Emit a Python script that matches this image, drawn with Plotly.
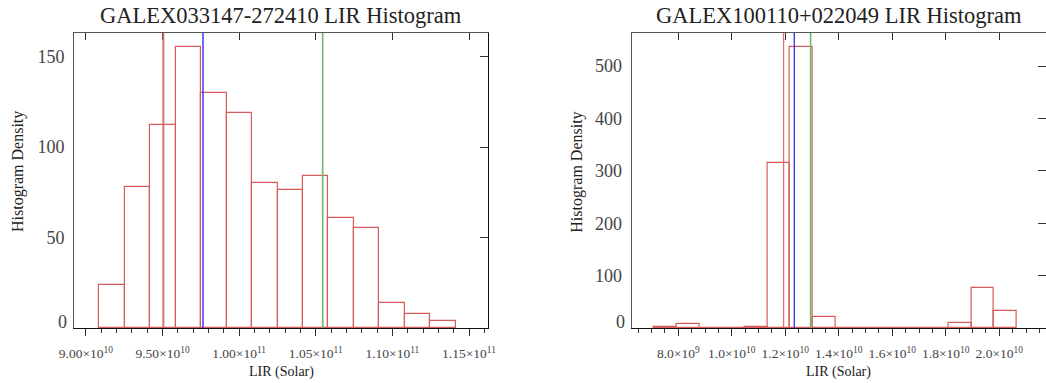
import plotly.graph_objects as go

# ---------------- data ----------------
left_title = "GALEX033147-272410 LIR Histogram"
right_title = "GALEX100110+022049 LIR Histogram"

left_edges = [9.087e10, 9.2532e10, 9.4194e10, 9.5856e10, 9.7518e10, 9.918e10, 1.00842e11,
              1.02504e11, 1.04166e11, 1.05828e11, 1.0749e11, 1.09152e11, 1.10814e11,
              1.12476e11, 1.14138e11]
left_heights = [24, 78, 112, 155, 130, 119, 80, 76, 84, 61, 55, 14, 8, 4]
left_lines = {"red": 9.505e10, "blue": 9.764e10, "green": 1.0545e11}
left_xticks = [9.0e10, 9.5e10, 1.0e11, 1.05e11, 1.1e11, 1.15e11]
left_xticklabels = ["9.00×10<sup>10</sup>", "9.50×10<sup>10</sup>", "1.00×10<sup>11</sup>",
                    "1.05×10<sup>11</sup>", "1.10×10<sup>11</sup>", "1.15×10<sup>11</sup>"]
left_yticks = [0, 50, 100, 150]
left_yticklabels = ["0", "50", "100", "150"]

right_edges = [7.09e9, 7.9375e9, 8.785e9, 9.6325e9, 1.048e10, 1.13275e10, 1.2175e10,
               1.30225e10, 1.387e10, 1.47175e10, 1.5565e10, 1.64125e10, 1.726e10,
               1.81075e10, 1.8955e10, 1.98025e10, 2.065e10]
right_heights = [2, 7, 0, 0, 2, 315, 537, 21, 0, 0, 0, 0, 0, 10, 77, 33]
right_lines = {"red": 1.1936e10, "blue": 1.2336e10, "green": 1.2946e10}
right_xticks = [8e9, 1.0e10, 1.2e10, 1.4e10, 1.6e10, 1.8e10, 2.0e10]
right_xticklabels = ["8.0×10<sup>9</sup>", "1.0×10<sup>10</sup>", "1.2×10<sup>10</sup>",
                     "1.4×10<sup>10</sup>", "1.6×10<sup>10</sup>", "1.8×10<sup>10</sup>",
                     "2.0×10<sup>10</sup>"]
right_yticks = [0, 100, 200, 300, 400, 500]
right_yticklabels = ["0", "100", "200", "300", "400", "500"]

x_title = "LIR (Solar)"
y_title = "Histogram Density"

# ---------------- style ----------------
FONT = "Liberation Serif, Times New Roman, serif"
BAR_COLOR = "rgb(214,92,92)"
LINE_COLORS = {"red": "rgba(214,90,90,0.85)", "blue": "rgb(30,30,235)", "green": "rgb(110,185,110)"}
LEFT_WIDTHS = {"red": 2, "blue": 1.3, "green": 1.6}
RIGHT_WIDTHS = {"red": 1.3, "blue": 1.2, "green": 1.6}

W, H = 1046, 383
ML, MR, MT, MB = 74, 0, 33, 55
inner_w = W - ML - MR
dom_left = [0, 414 / inner_w]
dom_right = [557.7 / inner_w, 1]

fig = go.Figure()


def add_hist(edges, heights, xa, ya):
    centers = [(edges[i] + edges[i + 1]) / 2 for i in range(len(heights))]
    widths = [edges[i + 1] - edges[i] for i in range(len(heights))]
    fig.add_trace(go.Bar(x=centers, y=heights, width=widths, base=0,
                         marker=dict(color="rgba(0,0,0,0)", line=dict(color=BAR_COLOR, width=1.2)),
                         xaxis=xa, yaxis=ya, cliponaxis=False, showlegend=False,
                         hoverinfo="skip"))
    # baseline of the histogram (empty bins)
    fig.add_trace(go.Scatter(x=[edges[0], edges[-1]], y=[0, 0], mode="lines",
                             line=dict(color=BAR_COLOR, width=1.2), xaxis=xa, yaxis=ya,
                             cliponaxis=False, showlegend=False, hoverinfo="skip"))


add_hist(left_edges, left_heights, "x", "y")
add_hist(right_edges, right_heights, "x2", "y2")

# empty traces so that the mirror (frame) axes get drawn
for xa, ya in [("x3", "y"), ("x", "y3"), ("x4", "y2"), ("x2", "y4")]:
    fig.add_trace(go.Scatter(x=[None], y=[None], xaxis=xa, yaxis=ya, mode="lines",
                             showlegend=False, hoverinfo="skip"))

for lines, widths, xr, yr in [(left_lines, LEFT_WIDTHS, "x", "y domain"),
                              (right_lines, RIGHT_WIDTHS, "x2", "y2 domain")]:
    for name, v in lines.items():
        fig.add_shape(type="line", xref=xr, yref=yr, x0=v, x1=v, y0=0, y1=1,
                      line=dict(color=LINE_COLORS[name], width=widths[name]))

tickfont_x = dict(family=FONT, size=13.5, color="#444")
tickfont_y = dict(family=FONT, size=18, color="#444")


def bottom_axis(domain, rng, tv, tt, tick0, minor_dtick, anchor):
    return dict(domain=domain, range=rng, anchor=anchor, showgrid=False, zeroline=False,
                showline=True, linecolor="#111", linewidth=1.3, layer="below traces",
                ticks="outside", ticklen=7, tickwidth=1, tickcolor="#333",
                tickmode="array", tickvals=tv, ticktext=tt, tickfont=tickfont_x,
                ticklabelstandoff=6,
                minor=dict(ticks="outside", ticklen=4, tickwidth=1, tickcolor="#333",
                           tick0=tick0, dtick=minor_dtick, showgrid=False))


def top_axis(over, rng, tv, anchor):
    return dict(overlaying=over, side="top", anchor=anchor, range=rng, showgrid=False,
                zeroline=False, showline=True, linecolor="#555", linewidth=1,
                ticks="inside", ticklen=7, tickcolor="#333", tickmode="array", tickvals=tv,
                showticklabels=False)


def left_axis(domain, rng, tv, tt, anchor):
    # the "0" label is written as an annotation (raised slightly, as in the original)
    return dict(domain=domain, range=rng, anchor=anchor, showgrid=False, zeroline=False,
                showline=True, linecolor="#555", linewidth=1, ticks="",
                tickmode="array", tickvals=tv[1:], ticktext=tt[1:], tickfont=tickfont_y,
                ticklabelstandoff=5)


def right_axis(over, rng, tv, anchor):
    return dict(overlaying=over, side="right", anchor=anchor, range=rng, showgrid=False,
                zeroline=False, showline=True, linecolor="#111", linewidth=1,
                ticks="inside", ticklen=8, tickcolor="#333", tickmode="array", tickvals=tv,
                showticklabels=False)


lx_range = [8.922e10, 1.1624e11]
rx_range = [6.258e9, 2.1746e10]
ly_range = [0, 163]
ry_range = [0, 563]

fig.update_layout(
    width=W, height=H, autosize=False, margin=dict(l=ML, r=MR, t=MT, b=MB, autoexpand=False),
    paper_bgcolor="white", plot_bgcolor="white", bargap=0, showlegend=False,
    xaxis=bottom_axis(dom_left, lx_range, left_xticks, left_xticklabels, 9.0e10, 1e9, "y"),
    xaxis2=bottom_axis(dom_right, rx_range, right_xticks, right_xticklabels, 8e9, 5e8, "y2"),
    xaxis3=top_axis("x", lx_range, left_xticks, "y"),
    xaxis4=top_axis("x2", rx_range, right_xticks, "y2"),
    yaxis=left_axis([0, 1], ly_range, left_yticks, left_yticklabels, "x"),
    yaxis2=left_axis([0, 1], ry_range, right_yticks, right_yticklabels, "x2"),
    yaxis3=right_axis("y", ly_range, left_yticks, "x"),
    yaxis4=right_axis("y2", ry_range, right_yticks, "x2"),
)

annotations = []
for title, xd, yr, tv, tt in [(left_title, "x domain", "y", left_yticks, left_yticklabels),
                              (right_title, "x2 domain", "y2", right_yticks, right_yticklabels)]:
    annotations.append(dict(text=title, xref=xd, x=0.5, yref="paper", y=1, yanchor="bottom",
                            yshift=3, showarrow=False,
                            font=dict(family=FONT, size=22.5, color="#222")))
    annotations.append(dict(text=x_title, xref=xd, x=0.5, yref="paper", y=0, yanchor="top",
                            yshift=-34, showarrow=False,
                            font=dict(family=FONT, size=14, color="#222")))
    annotations.append(dict(text=tt[0], xref=xd, x=0, xanchor="right", xshift=-5,
                            yref=yr, y=tv[0], yanchor="middle", yshift=6, showarrow=False,
                            font=tickfont_y))
for xpx in [18, 576.7]:
    annotations.append(dict(text=y_title, xref="paper", x=(xpx - ML) / inner_w, xanchor="center",
                            yref="paper", y=(H - MB - 172) / (H - MT - MB), yanchor="middle",
                            textangle=-90, showarrow=False,
                            font=dict(family=FONT, size=16, color="#222")))
fig.update_layout(annotations=annotations)

fig.write_html("out.html", config={"responsive": False})
